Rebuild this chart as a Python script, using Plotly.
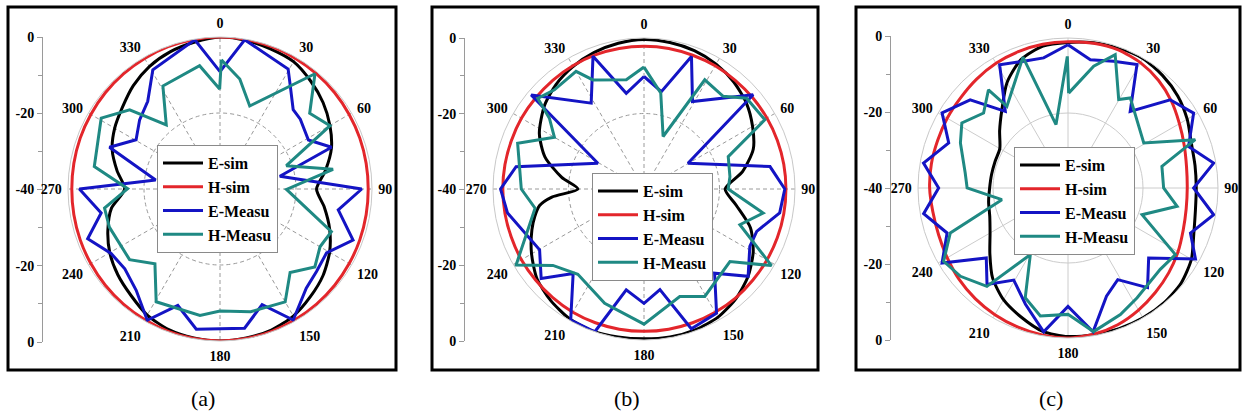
import plotly.graph_objects as go

W, H = 1242, 417

# ---------------- data (dB vs angle, degrees clockwise from top) ----------------
THETA10 = list(range(0, 361, 10))
ANG_TICKS = list(range(0, 360, 30))
ANG_LABELS = [str(a) for a in ANG_TICKS]
SIDE_TICKVALS = [-40, -20, 0, 20, 40]
SIDE_TICKTEXT = ["0", "-20", "-40", "-20", "0"]
SERIES_NAMES = ["E-sim", "H-sim", "E-Measu", "H-Measu"]
CAPTIONS = ["(a)", "(b)", "(c)"]

# panel (a)
A_ESIM = [0, -0.3, -0.8, -1.3, -2.9, -4.6, -6.6, -8.8, -11.8, -14.6, -12.1, -9.3, -6.7, -4.6, -3.0,
          -1.4, -0.5, -0.2, 0, -0.2, -0.6, -1.7, -3.5, -4.9, -6.5, -8.6, -11.0, -14.9, -12.5, -9.8,
          -8.0, -6.5, -4.5, -2.8, -1.6, -0.8, 0]
A_HSIM = [0, -0.05, -0.15, -0.3, -0.45, -0.6, -0.75, -0.85, -0.95, -1.0, -0.95, -0.85, -0.75, -0.6,
          -0.45, -0.3, -0.15, -0.05, 0, -0.05, -0.15, -0.3, -0.45, -0.6, -0.75, -0.85, -0.95, -1.0,
          -0.95, -0.85, -0.75, -0.6, -0.45, -0.3, -0.15, -0.05, 0]
A_EM_T = [0, 9.4, 29.6, 34.5, 42.7, 49, 61, 69.5, 78, 90, 100, 111, 121, 130.5, 139, 150.8, 160, 170,
          189.6, 199.9, 209, 219.6, 230, 239.4, 249.4, 258.6, 270, 278, 290.7, 300.4, 310.7, 320.5,
          330.6, 350.4, 360]
A_EM_R = [-9.1, -0.2, -3.7, -7.3, -11.6, -12.0, -13.4, -8.65, -23.9, -2.7, -8.4, -2.5, -7.3, -6.6,
          -5.4, -0.5, -7.6, -2.8, -2.6, -7.4, -0.5, -5.4, -7.3, -6.7, -2.8, -8.1, -3.0, -22.9, -8.9,
          -14.4, -12.1, -10.1, -4.0, -0.2, -9.1]
A_HM_T = [0.6, 10.2, 19.7, 39.5, 49.8, 60.1, 70.6, 80.1, 90.3, 111, 120, 129.4, 140, 150, 166, 180,
          189, 209.5, 221, 232, 251, 260.6, 270.2, 280.1, 300.8, 311.2, 320, 331, 350.6, 359.8, 360.6]
A_HM_R = [-6.0, -10.6, -16.8, -0.7, -9.1, -6.6, -21.5, -9.8, -22.5, -8.6, -9.6, -7.7, -11.3, -5.7,
          -6.7, -7.9, -6.3, -5.9, -13.9, -9.8, -9.2, -9.2, -15.7, -6.4, -3.6, -8.4, -18.0, -9.0,
          -7.1, -13.7, -6.0]

# panel (b)
B_ESIM_T = [0, 10, 20, 30, 40, 50, 60, 70, 80, 90, 100, 110, 120, 130, 140, 150, 160, 170, 180, 190,
            200, 210, 220, 230, 240, 250, 256, 261, 265, 270, 278, 288, 298, 310, 320, 330, 340, 350, 360]
B_ESIM = [-0.4, -0.6, -1.0, -1.8, -3.0, -4.6, -6.8, -9.2, -13.5, -18.5, -15.2, -10.0, -6.6, -4.0,
          -2.1, -0.8, -0.3, -0.2, -0.3, -0.2, 0.0, -0.4, -1.5, -3.0, -5.6, -8.4, -10.2, -12.0, -15.5,
          -22.5, -18.0, -12.4, -8.6, -5.6, -3.8, -2.5, -1.5, -0.8, -0.4]
B_HSIM = [-2.2, -2.2, -2.3, -2.3, -2.4, -2.4, -2.4, -2.4, -2.4, -2.4, -2.4, -2.4, -2.4, -2.4, -2.3,
          -2.3, -2.3, -2.3, -2.3, -2.3, -2.3, -2.3, -2.4, -2.5, -2.5, -2.6, -2.6, -2.6, -2.6, -2.6,
          -2.5, -2.5, -2.4, -2.3, -2.2, -2.2, -2.2]
B_EM_T = [0, 10.1, 19.7, 29, 49.2, 59.7, 79.9, 90, 100, 110.6, 118.5, 130, 140, 149.7, 161.3, 171,
          180, 190, 199, 209.2, 220, 229, 239.8, 260, 270, 279.9, 299.2, 309.8, 328.4, 339, 349.5, 360]
B_EM_R = [-10.2, -13.8, -2.7, -13.5, -1.8, -26.5, -6.1, -2.7, -3.5, -8.1, -8.1, -4.0, -10.9, -1.9,
          -0.9, -13.0, -9.7, -12.9, 0.0, -0.2, -10.8, -3.9, -8.0, -3.3, -2.0, -5.6, -26.0, -1.1,
          -13.3, -2.3, -14.2, -10.2]
B_HM_T = [0, 9.9, 20, 29.1, 40.5, 48.5, 60.2, 69, 81.8, 90, 101.4, 110.4, 121, 130.2, 150.5, 161.6,
          180, 199, 217.8, 230, 239.3, 260, 270, 289.9, 300, 306.8, 310.5, 317.9, 330, 334.9, 350.8, 360]
B_HM_R = [-7.7, -14.2, -25.2, -6.9, -7.7, -3.7, -3.1, -16.1, -17.0, -17.7, -7.8, -12.9, -0.6, -10.2,
          -7.3, -10.0, -4.2, -8.0, -11.4, -8.5, -0.6, -10.7, -7.5, -4.4, -12.6, -8.7, -3.0, -4.6,
          -4.0, -8.1, -10.7, -7.7]

# panel (c)
C_ESIM = [-1.2, -0.7, -0.3, -0.1, -0.8, -1.8, -3.3, -5.0, -5.6, -5.8, -5.5, -4.3, -2.0, -0.6, -0.1,
          0.0, -0.1, -0.3, -0.4, -1.2, -3.4, -5.6, -8.7, -12.8, -16.0, -17.8, -18.5, -19.1, -19.3,
          -19.3, -19.0, -16.2, -12.6, -7.5, -3.5, -1.6, -1.2]
C_HSIM = [-1.0, -0.8, -0.8, -1.4, -2.5, -4.0, -5.7, -7.0, -7.9, -8.2, -8.0, -7.3, -6.1, -4.9, -3.7,
          -2.4, -1.2, -0.4, 0.0, -0.2, -0.6, -1.0, -1.5, -2.1, -2.8, -3.3, -3.4, -3.1, -3.0, -3.0,
          -2.8, -2.6, -2.1, -1.6, -1.3, -1.1, -1.0]
C_EM_T = [0, 9.9, 19.8, 29.2, 39.1, 49.2, 59.2, 71, 80.3, 90, 100.4, 110.2, 119.1, 131, 141.4, 151.5,
          160.4, 170.1, 180, 189.6, 200.1, 210.5, 220, 229.4, 239.2, 249.6, 259.9, 270, 279.8, 290.7,
          300.8, 312, 320.7, 331, 340.7, 349.4, 360]
C_EM_R = [-1.8, -5.3, -4.1, -2.3, -13.7, -4.0, -1.0, -6.0, -0.6, -6.5, -0.5, -5.2, -1.1, -11.5, -6.0,
          -12.2, -9.4, -1.1, -8.4, -1.1, -7.0, -11.5, -6.4, -11.3, -0.9, -5.6, -0.9, -5.5, -0.9, -6.0,
          -0.9, -4.9, -13.6, -2.4, -4.2, -4.7, -1.8]
C_HM_T = [0.4, 11.9, 19.5, 29.8, 34.7, 40, 59.3, 69.2, 77, 90, 99.5, 109.8, 121.8, 131.4, 147.8, 157.5,
          169.9, 180, 192.2, 201.3, 209.5, 219.5, 230.6, 239.5, 249.1, 260, 270, 278.3, 292.7, 301.5,
          311.6, 321, 323.2, 341, 349.3, 359.7, 360.4]
C_HM_R = [-14.7, -6.8, -2.3, -12.8, -10.8, -12.7, -16.5, -3.7, -14.3, -14.5, -10.5, -19.0, -6.3, -7.2,
          -5.4, -3.5, -1.1, -6.3, -5.1, -8.6, -19.6, -6.0, -2.9, -1.5, -6.4, -22.1, -13.1, -12.3, -8.9,
          -6.8, -9.9, -6.3, -12.8, -3.1, -22.8, -4.9, -14.7]

# ---------------- styling / layout ----------------
COLORS = ["#000000", "#e3262b", "#1414c4", "#1f8983"]
SERIF = "Liberation Serif"


def px(x):
    return x / W


def py(y):
    return 1 - y / H


panels = [
    dict(sims=[(THETA10, A_ESIM), (THETA10, A_HSIM)], meas=[(A_EM_T, A_EM_R), (A_HM_T, A_HM_R)],
         cx=220, cy=189, R=152, axis_x=43, axis_y=(37, 342), box=(8, 7, 396, 370),
         legend=(157, 145), cap_x=203, grid="#9a9a9a", dash="4px,3px"),
    dict(sims=[(B_ESIM_T, B_ESIM), (THETA10, B_HSIM)], meas=[(B_EM_T, B_EM_R), (B_HM_T, B_HM_R)],
         cx=644, cy=189, R=151, axis_x=465, axis_y=(38, 341), box=(432, 7, 818, 370),
         legend=(592, 173), cap_x=627, grid="#9a9a9a", dash="4px,3px"),
    dict(sims=[(THETA10, C_ESIM), (THETA10, C_HSIM)], meas=[(C_EM_T, C_EM_R), (C_HM_T, C_HM_R)],
         cx=1068, cy=188, R=150, axis_x=891, axis_y=(36, 340), box=(856, 7, 1240, 370),
         legend=(1014, 147), cap_x=1051, grid="#cccccc", dash="solid"),
]

fig = go.Figure()
layout = dict(width=W, height=H, margin=dict(l=0, r=0, t=0, b=0, pad=0, autoexpand=False),
              paper_bgcolor="white", plot_bgcolor="white", showlegend=True, shapes=[],
              annotations=[])

for i, p in enumerate(panels):
    n = "" if i == 0 else str(i + 1)
    pid = "polar" + n
    leg = "legend" + n
    series = p["sims"] + p["meas"]
    for k, (th, rr) in enumerate(series):
        is_sim = k < 2
        fig.add_trace(go.Scatterpolar(
            theta=th, r=rr, mode="lines", name=SERIES_NAMES[k], subplot=pid, legend=leg,
            line=dict(color=COLORS[k], width=3, shape="spline" if is_sim else "linear",
                      smoothing=0.7 if is_sim else None),
            hoverinfo="skip"))
    cx, cy, R = p["cx"], p["cy"], p["R"]
    layout[pid] = dict(
        domain=dict(x=[px(cx - R), px(cx + R)], y=[py(cy + R), py(cy - R)]),
        bgcolor="rgba(0,0,0,0)",
        angularaxis=dict(rotation=90, direction="clockwise", tickmode="array",
                         tickvals=ANG_TICKS, ticktext=ANG_LABELS,
                         tickfont=dict(family=SERIF, size=14, color="black", weight="bold"),
                         showgrid=True, gridcolor=p["grid"], griddash=p["dash"], gridwidth=1,
                         showline=True, linecolor="#c8c8c8", linewidth=1,
                         ticks="outside", ticklen=3, tickcolor="rgba(0,0,0,0)"),
        radialaxis=dict(range=[-40, 0], tickmode="array", tickvals=[-20], showticklabels=False,
                        ticks="", showline=False, gridcolor=p["grid"], griddash=p["dash"],
                        gridwidth=1),
    )
    layout[leg] = dict(x=px(p["legend"][0]), y=py(p["legend"][1]), xanchor="left", yanchor="top",
                       bgcolor="white", bordercolor="#8a8a8a", borderwidth=1,
                       font=dict(family=SERIF, size=16, color="black", weight="bold"),
                       tracegroupgap=0, itemwidth=40)
    # side linear dB scale
    xa = "xaxis" + n
    ya = "yaxis" + n
    ay0, ay1 = p["axis_y"]
    layout[xa] = dict(domain=[px(p["axis_x"]), px(p["axis_x"] + 4)], visible=False, range=[0, 1],
                      fixedrange=True, automargin=False)
    layout[ya] = dict(domain=[py(ay1), py(ay0)], anchor="x" + n, side="left", automargin=False,
                      range=[-40, 40], tickmode="array", tickvals=SIDE_TICKVALS,
                      ticktext=["<b>" + t + "</b>" for t in SIDE_TICKTEXT], showline=True,
                      linecolor="#9a9a9a", linewidth=1,
                      ticks="outside", ticklen=5, tickcolor="#9a9a9a", showgrid=False,
                      zeroline=False, fixedrange=True,
                      tickfont=dict(family=SERIF, size=14, color="black"),
                      minor=dict(tickmode="array", tickvals=[-30, -10, 10, 30], ticks="outside",
                                 ticklen=4, tickcolor="#9a9a9a", showgrid=False))
    fig.add_trace(go.Scatter(x=[0.5], y=[0], xaxis="x" + n, yaxis="y" + n, mode="markers",
                             marker=dict(opacity=0), showlegend=False, hoverinfo="skip"))
    x0, y0, x1, y1 = p["box"]
    layout["shapes"].append(dict(type="rect", xref="paper", yref="paper", x0=px(x0), x1=px(x1),
                                 y0=py(y1), y1=py(y0), line=dict(color="black", width=3)))
    layout["annotations"].append(dict(text=CAPTIONS[i], x=px(p["cap_x"]), y=py(398), xref="paper",
                                      yref="paper", xanchor="center", yanchor="middle",
                                      showarrow=False,
                                      font=dict(family=SERIF, size=22, color="black")))

fig.update_layout(**layout)
fig.write_html("out.html", config={"displayModeBar": False},
               post_script="document.body.style.margin='0';")
